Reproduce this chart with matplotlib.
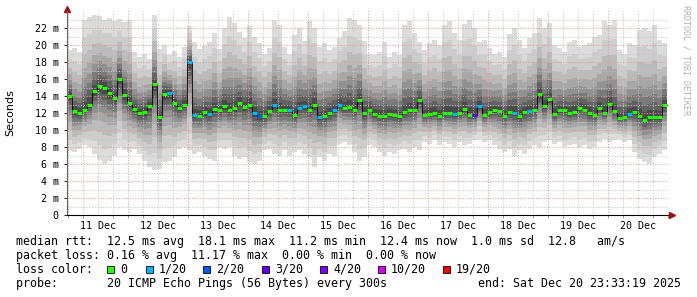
import numpy as np
import matplotlib
matplotlib.use('Agg')
import matplotlib.pyplot as plt
from matplotlib.patches import Rectangle

# 2 hour steps, first one starts Dec 10 23:33 (x axis in days from Dec 11 00:00)
start_day = -27 / 1440.0
step_days = 2 / 24.0

median = [14.0, 12.2, 12.0, 12.4, 13.0, 14.6, 15.2, 15.0, 14.3, 13.8, 16.0, 14.1,
          13.2, 12.5, 12.0, 12.1, 12.8, 15.4, 11.5, 14.2, 14.3, 13.2, 12.6, 13.0,
          18.0, 11.8, 11.7, 12.1, 11.9, 12.5, 12.3, 12.8, 12.3, 12.6, 13.2, 12.7,
          13.0, 12.0, 11.6, 11.6, 12.2, 12.9, 12.4, 12.4, 12.4, 11.8, 12.6, 12.8,
          12.4, 13.0, 11.5, 11.6, 12.0, 12.4, 13.0, 12.6, 12.7, 12.4, 13.5, 12.0,
          12.4, 11.9, 11.7, 11.7, 11.9, 11.8, 11.6, 12.1, 12.3, 12.3, 13.5, 11.8,
          11.9, 12.0, 11.7, 12.0, 12.0, 11.9, 12.0, 12.5, 11.8, 11.8, 12.8, 11.8,
          12.1, 12.3, 12.2, 11.7, 12.1, 12.0, 11.6, 12.1, 12.2, 12.3, 14.2, 12.8,
          13.6, 11.9, 12.3, 12.3, 12.0, 12.1, 12.6, 12.4, 12.0, 11.8, 12.6, 12.0,
          13.1, 12.2, 11.4, 11.5, 11.9, 12.1, 11.7, 11.2, 11.5, 11.5, 11.5, 13.0]

hi = [19.4, 19.6, 19.2, 22.9, 23.3, 23.5, 23.4, 23.0, 23.2, 22.8, 23.1, 22.7,
      22.9, 19.2, 18.6, 19.0, 18.3, 23.5, 19.5, 20.0, 18.8, 19.3, 18.6, 19.8,
      22.2, 20.3, 19.5, 19.9, 20.4, 21.4, 19.5, 22.0, 23.3, 22.6, 21.5, 20.8,
      22.2, 21.0, 20.2, 19.0, 19.6, 22.9, 22.4, 19.8, 19.0, 21.2, 22.0, 20.5,
      22.8, 22.0, 19.8, 20.2, 19.4, 19.8, 20.8, 21.6, 23.2, 22.9, 22.4, 20.5,
      19.0, 18.8, 19.2, 20.4, 18.6, 19.2, 18.8, 22.4, 22.8, 21.4, 20.4, 19.4,
      20.2, 20.6, 20.0, 22.4, 22.8, 21.4, 20.6, 22.5, 22.9, 22.0, 20.3, 20.6,
      19.6, 19.0, 19.2, 18.6, 21.3, 22.0, 20.6, 19.6, 20.8, 21.4, 23.2, 22.0,
      22.6, 20.0, 19.6, 19.2, 20.4, 20.6, 19.8, 20.0, 20.2, 21.0, 21.2, 22.8,
      22.4, 22.9, 19.4, 19.0, 20.2, 20.0, 21.8, 22.0, 21.6, 22.4, 20.6, 20.2]

lo = [7.5, 7.4, 7.8, 8.2, 8.0, 7.2, 6.5, 6.0, 6.3, 7.0, 8.0, 7.6,
      7.4, 7.8, 7.2, 6.4, 5.6, 5.3, 5.4, 6.2, 6.4, 6.8, 7.8, 8.0,
      7.6, 7.2, 7.4, 7.0, 6.6, 6.4, 8.0, 7.8, 8.0, 7.0, 6.6, 6.8,
      6.2, 6.0, 6.4, 7.6, 7.8, 7.2, 7.0, 7.6, 7.0, 7.4, 7.6, 7.2,
      6.8, 5.6, 6.8, 6.4, 7.2, 7.0, 8.4, 8.6, 8.2, 7.4, 6.4, 6.8,
      8.2, 8.0, 7.4, 7.0, 7.4, 7.2, 7.6, 7.8, 7.4, 8.0, 7.6, 8.6,
      8.4, 8.8, 8.2, 8.6, 8.4, 8.0, 8.6, 8.2, 8.4, 8.8, 9.0, 8.6,
      8.8, 8.2, 7.8, 7.4, 7.8, 7.0, 7.6, 7.2, 7.8, 8.2, 8.0, 8.6,
      8.8, 8.4, 8.6, 8.0, 8.2, 8.4, 8.0, 8.2, 7.8, 8.0, 8.6, 9.0,
      8.6, 8.8, 9.0, 8.6, 8.8, 7.4, 6.6, 6.2, 6.0, 6.8, 7.2, 7.6]

# lost pings (out of 20) per step, all other steps had no loss
loss = {20: 1, 24: 1, 25: 1, 28: 1, 37: 1, 38: 2, 41: 1, 44: 1, 46: 1, 47: 1,
        50: 1, 53: 1, 54: 1, 77: 1, 81: 3, 82: 1, 89: 1, 92: 1, 112: 1}

day_labels = ['11 Dec', '12 Dec', '13 Dec', '14 Dec', '15 Dec',
              '16 Dec', '17 Dec', '18 Dec', '19 Dec', '20 Dec']

loss_names = ['0', '1/20', '2/20', '3/20', '4/20', '10/20', '19/20']
loss_limits = [0, 1, 2, 3, 4, 10, 19]
loss_colors = ['#26ff00', '#00b8ff', '#0059ff', '#5e00ff', '#7e00ff', '#dd00ff', '#ff0000']

rtt_line = 'median rtt:  12.5 ms avg  18.1 ms max  11.2 ms min  12.4 ms now  1.0 ms sd  12.8   am/s'
loss_line = 'packet loss: 0.16 % avg  11.17 % max  0.00 % min  0.00 % now'
probe_line = 'probe:       20 ICMP Echo Pings (56 Bytes) every 300s'
end_line = 'end: Sat Dec 20 23:33:19 2025'

W, H = 697, 297
MONO = 'DejaVu Sans Mono'


def loss_color(n):
    c = loss_colors[0]
    for lim, col in zip(loss_limits, loss_colors):
        if n >= lim:
            c = col
    return c


fig = plt.figure(figsize=(W / 100, H / 100), dpi=100)
fig.patch.set_facecolor('white')
ax = fig.add_axes([67 / W, (H - 215) / H, 601 / W, 204 / H])

n = len(median)
edges = start_day + step_days * np.arange(n + 1)
med = np.array(median)
lo_a = np.array(lo)
hi_a = np.array(hi)

# smoke: nested bands, darker towards the median
fracs = [1.0, 0.8, 0.62, 0.47, 0.35, 0.25, 0.16, 0.08]
greys = ['#dcdcdc', '#cdcdcd', '#bbbbbb', '#a7a7a7', '#919191', '#7a7a7a', '#626262', '#4a4a4a']
for f, g in zip(fracs, greys):
    bottom = med - f * (med - lo_a)
    top = med + f * (hi_a - med)
    ax.fill_between(edges, np.append(bottom, bottom[-1]), np.append(top, top[-1]),
                    step='post', color=g, lw=0, zorder=1)

# dotted grid
for d in np.arange(0, 10.01, 0.25):
    major = abs(d - round(d)) < 1e-6
    ax.axvline(d, color='#e09a9a' if major else '#c4c4c4', lw=0.75,
               dashes=(1, 1.6), zorder=2)
for v in range(1, 24):
    ax.axhline(v, color='#e09a9a' if v % 2 == 0 else '#c4c4c4', lw=0.75,
               dashes=(1, 1.6), zorder=2)

# median line with loss colours
ax.step(edges, np.append(med, med[-1]), where='post', color='black', lw=0.6, zorder=3)
cols = [loss_color(loss.get(i, 0)) for i in range(n)]
ax.hlines(med, edges[:-1], edges[1:], colors=cols, lw=2.2, zorder=4)

ax.set_xlim(edges[0], edges[-1])
ax.set_ylim(0, 24)
ax.set_facecolor('white')

ax.set_yticks(np.arange(0, 23, 2))
ax.set_yticklabels(['0' if v == 0 else '%d m' % v for v in range(0, 23, 2)])
ax.set_xticks(np.arange(10) + 0.5)
ax.set_xticklabels(day_labels)
ax.set_xticks(np.arange(0, 10.01, 0.25), minor=True)
ax.tick_params(axis='x', which='major', length=0, pad=4, labelsize=7.2)
ax.tick_params(axis='x', which='minor', length=2, width=0.6, color='#888888')
ax.tick_params(axis='y', which='major', length=2, width=0.6, pad=4, labelsize=7.2)
for lab in ax.get_xticklabels() + ax.get_yticklabels():
    lab.set_family(MONO)

for s in ['top', 'right']:
    ax.spines[s].set_visible(False)
ax.spines['left'].set_color('#666666')
ax.spines['left'].set_linewidth(0.8)
ax.spines['bottom'].set_color('black')
ax.spines['bottom'].set_linewidth(0.8)
ax.spines['left'].set_zorder(5)
ax.spines['bottom'].set_zorder(5)

# axis arrows
ax.plot([0], [1.012], marker='^', color='#a01010', ms=4, transform=ax.transAxes, clip_on=False)
ax.plot([1.006], [0], marker='>', color='#a01010', ms=4, transform=ax.transAxes, clip_on=False)

fig.text(10 / W, 1 - 113 / H, 'Seconds', rotation=90, ha='center', va='center',
         fontsize=8, family='DejaVu Sans')
fig.text(686 / W, 1 - 60 / H, 'RRDTOOL / TOBI OETIKER', rotation=270, ha='center',
         va='center', fontsize=6, family=MONO, color='#b0b0b0')

# legend rows
fig.text(16 / W, 1 - 241 / H, rtt_line, family=MONO, fontsize=8.4, va='center')
fig.text(16 / W, 1 - 255.5 / H, loss_line, family=MONO, fontsize=8.4, va='center')
fig.text(16 / W, 1 - 269.5 / H, 'loss color:', family=MONO, fontsize=8.4, va='center')
fig.text(16 / W, 1 - 283.5 / H, probe_line, family=MONO, fontsize=8.4, va='center')
fig.text(478 / W, 1 - 283.5 / H, end_line, family=MONO, fontsize=8.4, va='center')

box_x = [107, 146, 203, 262, 320, 378, 443]
for bx, name, col in zip(box_x, loss_names, loss_colors):
    fig.add_artist(Rectangle((bx / W, 1 - 273 / H), 7 / W, 7 / H, transform=fig.transFigure,
                             facecolor=col, edgecolor='black', lw=0.6))
    fig.text((bx + 13) / W, 1 - 269.5 / H, name, family=MONO, fontsize=8.4, va='center')

fig.savefig('out.png', dpi=100, facecolor='white')
plt.close(fig)
